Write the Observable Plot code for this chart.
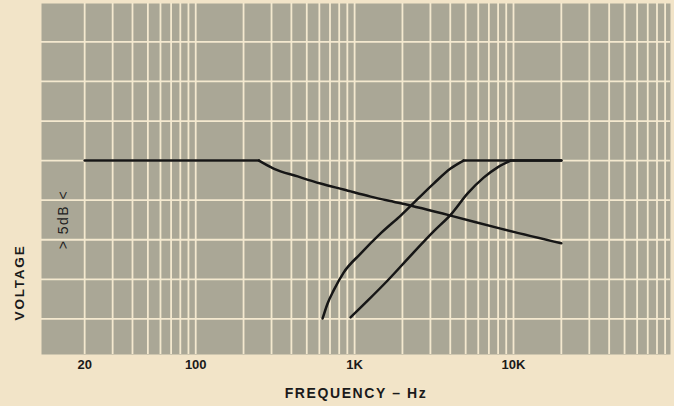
<!DOCTYPE html>
<html>
<head>
<meta charset="utf-8">
<script src="https://cdn.jsdelivr.net/npm/d3@7"></script>
<script src="https://cdn.jsdelivr.net/npm/@observablehq/plot@0.6"></script>
<style>
  html, body { margin: 0; padding: 0; background: #f2e4c8; }
  #chart { width: 674px; height: 406px; }
</style>
</head>
<body>
<div id="chart"></div>
<script>
// ---- data ----
const lowpassHz  = [20, 250, 309, 438, 611, 853, 1262, 1950, 4018, 8300, 20000];
const lowpassV   = [5.0, 5.0, 4.8, 4.6, 4.42, 4.27, 4.09, 3.92, 3.61, 3.28, 2.91];

const highpass1Hz = [629, 676, 738, 853, 1091, 1458, 1950, 3143, 4018, 4850, 20000];
const highpass1V  = [1.01, 1.39, 1.72, 2.17, 2.65, 3.16, 3.61, 4.42, 4.8, 5.0, 5.0];

const highpass2Hz = [944, 1208, 1614, 2254, 3143, 4085, 5145, 6486, 7943, 9600, 20000];
const highpass2V  = [1.04, 1.46, 1.97, 2.6, 3.21, 3.66, 4.17, 4.57, 4.83, 5.0, 5.0];

const tickValues = [20, 100, 1000, 10000];
const tickLabels = ["20", "100", "1K", "10K"];

const gridHz = [20, 30, 40, 50, 60, 70, 80, 90,
                100, 200, 300, 400, 500, 600, 700, 800, 900,
                1000, 2000, 3000, 4000, 5000, 6000, 7000, 8000, 9000,
                10000, 20000, 30000, 40000, 50000, 60000, 70000, 80000, 90000];
const gridV = [1, 2, 3, 4, 5, 6, 7, 8];

const xTitle = "FREQUENCY \u2013 Hz";
const yTitle = "VOLTAGE";
const stepNote = "> 5dB <";

// ---- build ----
const toRows = (xs, ys) => xs.map((x, i) => ({x, y: ys[i]}));
const lp = toRows(lowpassHz, lowpassV);
const hp1 = toRows(highpass1Hz, highpass1V);
const hp2 = toRows(highpass2Hz, highpass2V);
// split each response into its flat part (straight) and its sloping part (smooth)
const parts = [
  {rows: lp.slice(0, 2), curve: "linear"},
  {rows: lp.slice(1), curve: "monotone-x"},
  {rows: hp1.slice(0, hp1.length - 1), curve: "monotone-x"},
  {rows: hp1.slice(hp1.length - 2), curve: "linear"},
  {rows: hp2.slice(0, hp2.length - 1), curve: "monotone-x"},
  {rows: hp2.slice(hp2.length - 2), curve: "linear"}
];

const cream = "#f4e9cf";
const grey = "#aaa796";
const ink = "#161616";
const font = "'Liberation Sans', Arial, sans-serif";

const chart = Plot.plot({
  width: 674,
  height: 406,
  marginLeft: 41,
  marginRight: 4,
  marginTop: 3,
  marginBottom: 52,
  style: {background: "transparent", fontFamily: font, color: "#1a1a1a"},
  x: {type: "log", domain: [10.7, 97300], axis: null},
  y: {domain: [0.1, 8.97], axis: null},
  marks: [
    Plot.frame({fill: grey, stroke: null}),
    Plot.ruleX(gridHz, {stroke: cream, strokeWidth: 1.8}),
    Plot.ruleY(gridV, {stroke: cream, strokeWidth: 1.8}),
    ...parts.map(p => Plot.line(p.rows, {x: "x", y: "y", curve: p.curve, stroke: ink, strokeWidth: 2.5, strokeLinejoin: "round", strokeLinecap: "round"})),
    Plot.axisX(tickValues, {
      tickSize: 0, tickPadding: 5, label: null,
      tickFormat: (d) => tickLabels[tickValues.indexOf(d)],
      fontSize: 13, fontWeight: "bold", fill: "#1a1a1a"
    }),
    Plot.text([xTitle], {
      frameAnchor: "bottom", dy: 43, text: d => d,
      fontSize: 14, fontWeight: "bold", fill: "#1a1a1a"
    }),
    Plot.text([yTitle], {
      x: () => 7.8, y: () => 1.92, rotate: -90, text: d => d,
      fontSize: 13.5, fontWeight: "bold", fill: "#1a1a1a"
    }),
    Plot.text([stepNote], {
      x: () => 14.8, y: () => 3.51, rotate: -90, text: d => d,
      fontSize: 14, fill: "#222"
    })
  ]
});

document.getElementById("chart").appendChild(chart);
// letter spacing on titles
chart.querySelectorAll("text").forEach(t => {
  const s = t.textContent;
  if (s === xTitle) t.setAttribute("letter-spacing", "1.6");
  if (s === yTitle) t.setAttribute("letter-spacing", "1.8");
  if (s === stepNote) t.setAttribute("letter-spacing", "1.5");
});
</script>
</body>
</html>
